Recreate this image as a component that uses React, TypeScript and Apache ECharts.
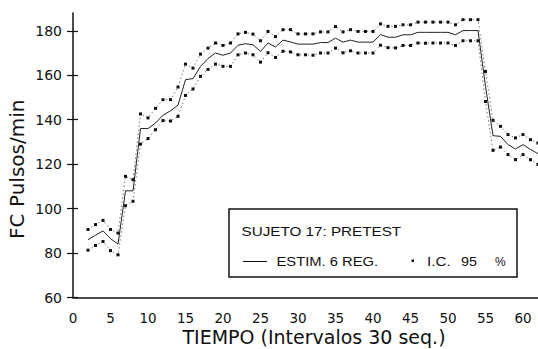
import React, { useEffect, useRef } from "react";
import * as echarts from "echarts";

const tiempo = [
  2, 3, 4, 5, 6, 7, 8, 9, 10, 11, 12, 13, 14, 15, 16, 17, 18, 19, 20, 21, 22,
  23, 24, 25, 26, 27, 28, 29, 30, 31, 32, 33, 34, 35, 36, 37, 38, 39, 40, 41,
  42, 43, 44, 45, 46, 47, 48, 49, 50, 51, 52, 53, 54, 55, 56, 57, 58, 59, 60,
  61, 62,
];

const estim = [
  86, 88, 90, 86.5, 84, 108, 108, 136, 136, 138.5, 142, 144, 146.5, 158, 158.5,
  164, 167.5, 170, 169, 170, 173.5, 174.2, 173.7, 170.7, 174.5, 172.7, 175.8,
  175, 174, 174, 174, 174.7, 174.7, 176.7, 174.9, 175.8, 174.9, 174.9, 174.9,
  178.3, 177.1, 177.1, 178.2, 178.2, 179.3, 179.3, 179.3, 179.3, 179.3, 178.2,
  180.1, 180.1, 180.1, 155, 132.8, 132.5, 128.8, 126.8, 128.8, 126.6, 124.7,
];

const icSup = [
  90.6, 92.8, 94.7, 90.6, 89, 114.5, 113, 142.6, 140.8, 145.1, 149, 149, 154.7,
  165, 163.2, 169.5, 172.2, 174.5, 173.4, 174.5, 178.6, 179.3, 178.5, 175.5,
  179.7, 177.4, 180.5, 180.5, 178.6, 178.6, 178.6, 179.5, 179.5, 181.9, 179.5,
  180.5, 179.7, 179.7, 179.7, 183.1, 182, 182, 182.7, 182.7, 183.9, 183.9,
  183.9, 183.9, 183.9, 182.7, 185, 185, 185, 161.7, 139.7, 137, 133.3, 131.8,
  133.3, 131, 129.5,
];

const icInf = [
  81.3, 83.4, 85.2, 81.1, 79.2, 101.3, 103.3, 129, 131.5, 135.5, 139.6, 139.4,
  141.5, 150.9, 153.8, 159.5, 162.6, 165, 164, 164, 169.2, 170, 169.2, 165.9,
  170.1, 168, 170.8, 170.5, 169.2, 169.2, 169, 170, 170, 172.2, 170.1, 171, 170,
  170, 170, 173.5, 172.4, 172.3, 173.4, 173.4, 174.5, 174.4, 174.5, 174.5,
  174.5, 173.4, 175.5, 175.5, 175.5, 148.2, 126.2, 127.7, 124.3, 122, 124.3,
  122, 119.8,
];

const yTicks = [60, 80, 100, 120, 140, 160, 180];
const xTicks = [0, 5, 10, 15, 20, 25, 30, 35, 40, 45, 50, 55, 60];

const AXIS_FONT = "DejaVu Sans";
const LEG_FONT = "Liberation Sans";

export default function App() {
  const ref = useRef<HTMLDivElement>(null);

  useEffect(() => {
    if (!ref.current) return;
    const chart = echarts.init(ref.current, null, { renderer: "svg" });
    const pairs = (v: number[]) => tiempo.map((t, i) => [t, v[i]]);
    const ink = "#111";

    const legText = (text: string, x: number, y: number, sx: number) => ({
      type: "text",
      x,
      y,
      scaleX: sx,
      style: {
        text,
        x: 0,
        y: 0,
        fill: ink,
        font: `12px "${LEG_FONT}"`,
        verticalAlign: "middle",
        align: "left",
      },
    });

    chart.setOption({
      animation: false,
      backgroundColor: "#fff",
      grid: {
        left: 73,
        right: 0,
        top: 13,
        bottom: 51.5,
        containLabel: false,
        outerBoundsMode: "none",
      },
      xAxis: {
        type: "value",
        min: 0,
        max: 62,
        interval: 5,
        axisLine: { show: true, lineStyle: { color: ink, width: 1.6 } },
        axisTick: { show: false },
        splitLine: { show: false },
        axisLabel: {
          customValues: xTicks,
          color: ink,
          fontFamily: AXIS_FONT,
          fontSize: 13.5,
          lineHeight: 14,
          margin: 13,
        },
        name: "TIEMPO (Intervalos 30 seq.)",
        nameLocation: "middle",
        nameGap: 30,
        nameMoveOverlap: false,
        nameTextStyle: {
          fontFamily: AXIS_FONT,
          fontSize: 19,
          lineHeight: 19,
          color: ink,
          padding: [0, 0, 0, 17],
        },
      },
      yAxis: [
        {
          type: "value",
          min: 60,
          max: 188,
          interval: 20,
          axisLine: { show: true, lineStyle: { color: ink, width: 1.5 } },
          axisTick: {
            show: true,
            customValues: yTicks,
            length: 6,
            lineStyle: { color: ink, width: 1.2 },
          },
          splitLine: { show: false },
          axisLabel: {
            customValues: yTicks,
            color: ink,
            fontFamily: AXIS_FONT,
            fontSize: 14,
            margin: 11,
          },
          name: "FC Pulsos/min",
          nameLocation: "middle",
          nameRotate: 90,
          nameGap: 46,
          nameMoveOverlap: false,
          nameTextStyle: {
            fontFamily: AXIS_FONT,
            fontSize: 20,
            color: ink,
            padding: [0, 28, 0, 0],
          },
        },
        {
          type: "value",
          min: 60,
          max: 188,
          interval: 20,
          position: "left",
          axisLine: { show: false },
          axisLabel: { show: false },
          splitLine: { show: false },
          axisTick: {
            show: true,
            inside: true,
            customValues: yTicks,
            length: 5,
            lineStyle: { color: ink, width: 1.2 },
          },
        },
      ],
      series: [
        {
          name: "ESTIM. 6 REG.",
          type: "line",
          data: pairs(estim),
          symbol: "none",
          lineStyle: { color: "#222", width: 1 },
        },
        {
          name: "I.C. 95 % sup",
          type: "line",
          data: pairs(icSup),
          symbol: "rect",
          symbolSize: 3,
          itemStyle: { color: ink },
          lineStyle: { color: "#555", width: 0.8, type: [1.5, 2.5] },
        },
        {
          name: "I.C. 95 % inf",
          type: "line",
          data: pairs(icInf),
          symbol: "rect",
          symbolSize: 3,
          itemStyle: { color: ink },
          lineStyle: { color: "#555", width: 0.8, type: [1.5, 2.5] },
        },
      ],
      graphic: [
        {
          type: "rect",
          shape: { x: 229, y: 209, width: 288, height: 68 },
          style: { fill: "#fff", stroke: ink, lineWidth: 1.5 },
          z: 10,
        },
        { ...legText("SUJETO 17: PRETEST", 241.5, 232, 1.27), z: 11 },
        {
          type: "line",
          shape: { x1: 243, y1: 261.5, x2: 267, y2: 261.5 },
          style: { stroke: ink, lineWidth: 1 },
          z: 11,
        },
        { ...legText("ESTIM. 6 REG.", 276.5, 262, 1.23), z: 11 },
        {
          type: "rect",
          shape: { x: 411.5, y: 259.5, width: 2.5, height: 2.5 },
          style: { fill: ink },
          z: 11,
        },
        { ...legText("I.C.", 427, 262, 1.27), z: 11 },
        { ...legText("95", 461, 262, 1.2), z: 11 },
        { ...legText("%", 495, 262, 1.0), z: 11 },
      ],
    });

    return () => chart.dispose();
  }, []);

  return (
    <div
      ref={ref}
      style={{
        position: "fixed",
        left: 0,
        top: 0,
        width: 538,
        height: 349,
        background: "#fff",
      }}
    />
  );
}
